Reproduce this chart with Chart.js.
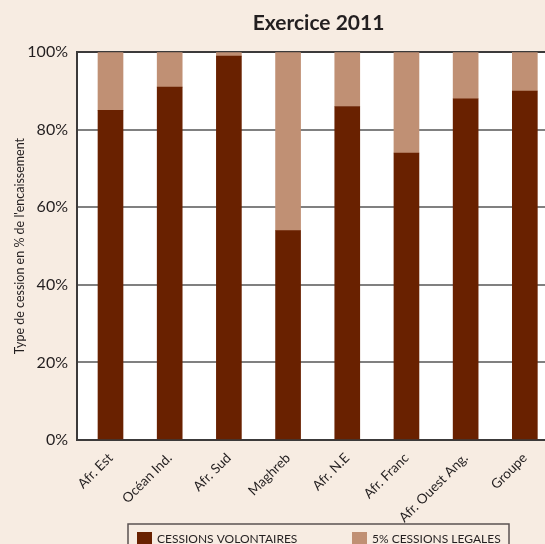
<!DOCTYPE html>
<html>
<head>
<meta charset="utf-8">
<script src="https://cdn.jsdelivr.net/npm/chart.js@4.4.1/dist/chart.umd.min.js"></script>
<style>
  html, body { margin: 0; padding: 0; background: #f7ece2; overflow: hidden; }
</style>
</head>
<body>
<canvas id="chart" width="560" height="570"></canvas>
<script>
const regions = ['Afr. Est', 'Océan Ind.', 'Afr. Sud', 'Maghreb', 'Afr. N.E', 'Afr. Franc', 'Afr. Ouest Ang.', 'Groupe'];
const volontaires = [85, 91, 99, 54, 86, 74, 88, 90];
const legales = [15, 9, 1, 46, 14, 26, 12, 10];
const yTicks = [0, 20, 40, 60, 80, 100];

const FONT = 'Lato';
const INK = '#231f20';

// paper background + white plot area
const background = {
  id: 'background',
  beforeDraw(chart) {
    const { ctx, chartArea: a } = chart;
    ctx.save();
    ctx.fillStyle = '#f7ece2';
    ctx.fillRect(0, 0, chart.width, chart.height);
    ctx.fillStyle = '#ffffff';
    ctx.fillRect(a.left, a.top, a.right - a.left, a.bottom - a.top);
    ctx.restore();
  }
};

// framed legend under the axis labels
const legendBox = {
  id: 'legendBox',
  afterDraw(chart) {
    const { ctx, chartArea: a } = chart;
    const cx = (a.left + a.right) / 2;
    const w = 381, top = 524;
    const left = cx - w / 2;
    ctx.save();
    ctx.strokeStyle = '#5b5252';
    ctx.lineWidth = 1.5;
    ctx.strokeRect(left, top, w, 40);
    ctx.font = '12px ' + FONT;
    ctx.textBaseline = 'alphabetic';
    chart.data.datasets.forEach((ds, i) => {
      const x = left + 9 + i * 215;
      ctx.fillStyle = ds.backgroundColor;
      ctx.fillRect(x, top + 8, 15, 12);
      ctx.fillStyle = INK;
      ctx.fillText(ds.label, x + 20, top + 19);
    });
    ctx.restore();
  }
};

const step = 59.19;
const xMin = -0.566;

new Chart(document.getElementById('chart'), {
  type: 'bar',
  data: {
    datasets: [
      {
        label: 'CESSIONS VOLONTAIRES',
        data: volontaires.map((v, i) => ({ x: i, y: v })),
        backgroundColor: '#692100',
        barThickness: 25,
      },
      {
        label: '5% CESSIONS LEGALES',
        data: legales.map((v, i) => ({ x: i, y: v })),
        backgroundColor: '#c09074',
        barThickness: 25,
      },
    ],
  },
  options: {
    responsive: false,
    animation: false,
    layout: { padding: 0 },
    plugins: {
      legend: { display: false },
      tooltip: { enabled: false },
      title: {
        display: true,
        fullSize: false,
        text: 'Exercice 2011',
        color: INK,
        font: { family: FONT, size: 21, weight: 'bold' },
        padding: { top: 11, bottom: 16 },
      },
    },
    scales: {
      x: {
        type: 'linear',
        stacked: true,
        offset: false,
        min: xMin,
        max: xMin + 483 / step,
        grid: { display: false },
        border: { display: false },
        afterBuildTicks: (s) => { s.ticks = regions.map((r, i) => ({ value: i })); },
        afterFit: (s) => { s.height = 130; },
        ticks: {
          autoSkip: false,
          minRotation: 45,
          maxRotation: 45,
          padding: 2,
          color: INK,
          font: { family: FONT, size: 13.5 },
          callback: (v) => regions[v],
        },
      },
      y: {
        stacked: true,
        min: 0,
        max: 100,
        afterBuildTicks: (s) => { s.ticks = yTicks.map((v) => ({ value: v })); },
        afterFit: (s) => { s.width = 77; },
        grid: {
          drawTicks: false,
          lineWidth: 2,
          color: (c) => (c.tick.value === 0 || c.tick.value === 100 ? '#3c3a3a' : '#808080'),
        },
        border: { color: '#3c3a3a', width: 2 },
        ticks: {
          padding: 9,
          color: INK,
          font: { family: FONT, size: 16 },
          callback: (v) => v + '%',
        },
        title: {
          display: true,
          text: "Type de cession en % de l'encaissement",
          color: INK,
          font: { family: FONT, size: 12.5 },
          padding: { top: 12, bottom: 0 },
        },
      },
    },
  },
  plugins: [background, legendBox],
});
</script>
</body>
</html>
